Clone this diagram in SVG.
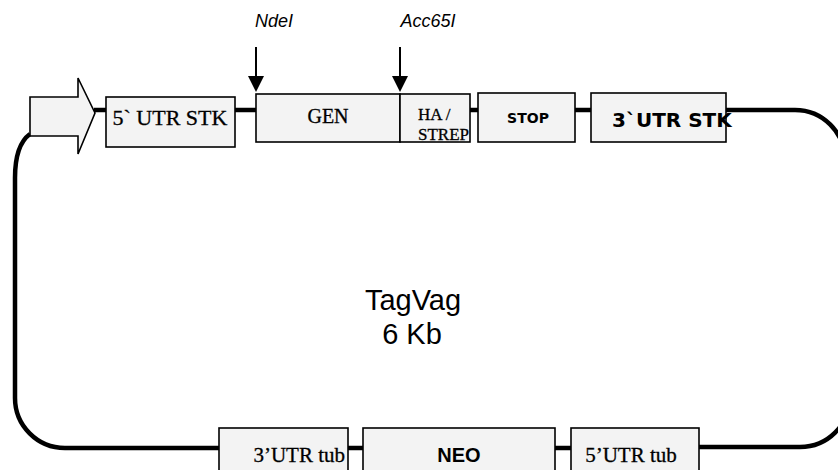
<svg xmlns="http://www.w3.org/2000/svg" width="838" height="470" viewBox="0 0 838 470">
<style>
.box{fill:#f3f3f3;stroke:#000;stroke-width:1.6}
.wire{fill:none;stroke:#000;stroke-width:4.5}
.tm{font-family:"Liberation Serif",serif;fill:#000;stroke:#000;stroke-width:0.3}
.sb{font-family:"DejaVu Sans","Liberation Sans",sans-serif;font-weight:bold;fill:#000}
.ar{font-family:"Liberation Sans",Arial,sans-serif;fill:#000}
.site{stroke:#000;stroke-width:2}
</style>
<defs>
<clipPath id="hsclip"><rect x="400" y="94" width="70" height="48"/></clipPath>
</defs>
<g id="connectors">
<path class="wire" d="M30,134 Q15,145 15,178 V398 A50,50 0 0 0 65,448 H219"/>
<path class="wire" d="M94,110 H106"/>
<path class="wire" d="M235,110 H256"/>
<path class="wire" d="M470,110 H478"/>
<path class="wire" d="M575,110 H591"/>
<path class="wire" d="M726,110 H795 A50,50 0 0 1 845,160"/>
<path class="wire" d="M348,448 H363"/>
<path class="wire" d="M555,448 H571"/>
<path class="wire" d="M699,447 H800 A50,50 0 0 0 850,397"/>
</g>
<g id="promoter">
<polygon class="box" points="30,97 78,97 78,78 95,113 78,154 78,136 30,136"/>
</g>
<g id="utr5stk">
<rect class="box" x="106" y="97" width="129" height="50"/>
<text class="tm" x="170" y="125" font-size="22" text-anchor="middle">5` UTR STK</text>
</g>
<g id="gen">
<rect class="box" x="256" y="94" width="144" height="48"/>
<text class="tm" x="328" y="123" font-size="20" text-anchor="middle">GEN</text>
</g>
<g id="hastrep">
<rect class="box" x="400" y="94" width="70" height="48"/>
<g clip-path="url(#hsclip)">
<text class="tm" x="418" y="120" font-size="17">HA /</text>
<text class="tm" x="418" y="140" font-size="17">STREP</text>
</g>
</g>
<g id="stop">
<rect class="box" x="478" y="93" width="97" height="49"/>
<text class="sb" x="528" y="123" font-size="14" text-anchor="middle">STOP</text>
</g>
<g id="utr3stk">
<rect class="box" x="591" y="93" width="135" height="49"/>
<text class="sb" x="612" y="127" font-size="20">3`UTR STK</text>
</g>
<g id="ndeI">
<text class="ar" x="274" y="27" font-size="18" font-style="italic" text-anchor="middle">NdeI</text>
<line class="site" x1="256" y1="47" x2="256" y2="78"/>
<polygon points="248,76 264,76 256,92"/>
</g>
<g id="acc65I">
<text class="ar" x="428" y="27" font-size="18" font-style="italic" text-anchor="middle">Acc65I</text>
<line class="site" x1="400" y1="47" x2="400" y2="78"/>
<polygon points="392,76 408,76 400,92"/>
</g>
<g id="utr3tub">
<rect class="box" x="219" y="428" width="129" height="50"/>
<text class="tm" x="345" y="462" font-size="21" text-anchor="end">3’UTR tub</text>
</g>
<g id="neo">
<rect class="box" x="363" y="428" width="192" height="50"/>
<text class="ar" x="459" y="462" font-size="20" font-weight="bold" text-anchor="middle">NEO</text>
</g>
<g id="utr5tub">
<rect class="box" x="571" y="428" width="128" height="50"/>
<text class="tm" x="631" y="462" font-size="21" text-anchor="middle">5’UTR tub</text>
</g>
<g id="title">
<text class="ar" x="413" y="310" font-size="29" text-anchor="middle">TagVag</text>
<text class="ar" x="412" y="344" font-size="29" text-anchor="middle">6 Kb</text>
</g>
</svg>
